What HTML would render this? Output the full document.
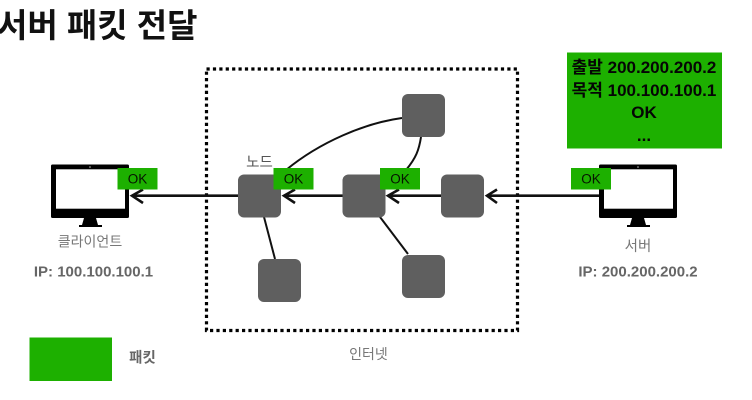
<!DOCTYPE html>
<html lang="ko">
<head>
<meta charset="utf-8">
<style>
html,body{margin:0;padding:0;background:#fff;width:752px;height:400px;overflow:hidden}
svg{display:block}
text{font-family:"Liberation Sans","Noto Sans CJK KR",sans-serif}
</style>
</head>
<body>
<svg width="752" height="400" viewBox="0 0 752 400" xmlns="http://www.w3.org/2000/svg">
<text x="-3" y="37" font-size="33" font-weight="700" fill="#111">서버 패킷 전달</text>

<!-- internet boundary -->
<rect x="206.500" y="69" width="311" height="261.500" fill="none" stroke="#000" stroke-width="3.200" stroke-dasharray="3.200 3.200"/>

<!-- links -->
<g fill="none" stroke="#111" stroke-width="2">
<path d="M402 118 C365 123 320 142 286 170"/>
<path d="M421 137 C419 150 416 158 406 170"/>
<path d="M264 217 L275 259"/>
<path d="M380 217 L408 254"/>
</g>
<g fill="none" stroke="#111" stroke-width="2.600">
<path d="M132 195.700 H238"/>
<path d="M284 195.700 H343"/>
<path d="M388 195.700 H441"/>
<path d="M487 195.700 H600"/>
<path d="M143 189.500 L132 195.700 L143 203"/>
<path d="M295 189.500 L284 195.700 L295 203"/>
<path d="M399 189.500 L388 195.700 L399 203"/>
<path d="M497 189.500 L487 195.700 L497 203"/>
</g>

<!-- nodes -->
<g fill="#5f5f5f">
<rect x="402" y="94" width="43" height="43" rx="6"/>
<rect x="238" y="174.500" width="43" height="43" rx="6"/>
<rect x="342.500" y="174.500" width="43" height="43" rx="6"/>
<rect x="441" y="174.500" width="43" height="43" rx="6"/>
<rect x="258" y="259" width="43" height="43" rx="6"/>
<rect x="402" y="255" width="43" height="43" rx="6"/>
</g>

<!-- client monitor -->
<rect x="51" y="164.500" width="78" height="53.500" rx="1.500" fill="#000"/>
<rect x="56" y="169.300" width="69" height="39.400" fill="#fff"/>
<circle cx="90" cy="167" r="0.800" fill="#bbb"/>
<path d="M84 218 H96 L98 225 H102 V227 H79 V225 H82 Z" fill="#000"/>

<!-- server monitor -->
<rect x="599" y="164.500" width="78" height="53.500" rx="1.500" fill="#000"/>
<rect x="604" y="169.300" width="69" height="39.400" fill="#fff"/>
<circle cx="638" cy="167" r="0.800" fill="#bbb"/>
<path d="M632 218 H644 L646 225 H650 V227 H627 V225 H630 Z" fill="#000"/>

<!-- OK packets -->
<g fill="#1db000">
<rect x="117.500" y="168" width="40" height="21.500"/>
<rect x="273.500" y="168" width="40" height="21.500"/>
<rect x="380" y="168" width="40" height="21.500"/>
<rect x="571" y="168" width="40" height="21.500"/>
<rect x="567" y="52.500" width="155" height="96"/>
<rect x="29.500" y="337.500" width="82.500" height="43.500"/>
</g>
<g font-size="13.500" text-anchor="middle" fill="#061500">
<text x="137.500" y="183.500">OK</text>
<text x="293.500" y="183.500">OK</text>
<text x="400" y="183.500">OK</text>
<text x="591" y="183.500">OK</text>
</g>

<!-- packet details -->
<g font-weight="700" fill="#050505" text-anchor="middle">
<text x="644" y="73" font-size="17">출발 200.200.200.2</text>
<text x="644" y="96" font-size="17">목적 100.100.100.1</text>
<text x="644" y="118" font-size="17">OK</text>
<text x="644" y="141" font-size="17">...</text>
</g>

<!-- labels -->
<g fill="#777" text-anchor="middle">
<text x="90" y="246.500" font-size="14">클라이언트</text>
<text x="93.500" y="276.500" font-size="15" font-weight="700" fill="#666">IP: 100.100.100.1</text>
<text x="638" y="251" font-size="14.500">서버</text>
<text x="638" y="276.500" font-size="15" font-weight="700" fill="#666">IP: 200.200.200.2</text>
<text x="259.500" y="167" font-size="14.500" fill="#555">노드</text>
<text x="368.500" y="359" font-size="14">인터넷</text>
<text x="142.500" y="362.500" font-size="14.500" font-weight="700" fill="#666">패킷</text>
</g>
</svg>
</body>
</html>
